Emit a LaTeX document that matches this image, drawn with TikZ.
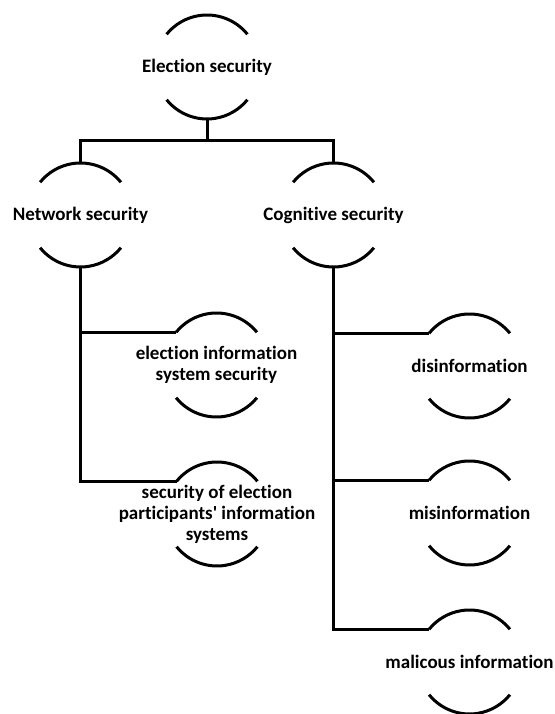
\documentclass[tikz,border=0pt]{standalone}
\usepackage{fontspec}
\newfontfamily\lblfont[Ligatures={NoCommon}]{Carlito}
\begin{document}
\begin{tikzpicture}[x=1pt,y=1pt,
  hub/.style={circle,draw=none,inner sep=0pt,outer sep=0pt,minimum size=104pt},
  lbl/.style={font=\lblfont\fontsize{19}{21}\selectfont\bfseries,align=center,inner sep=0pt},
  arcline/.style={line width=3pt,black},
  conn/.style={line width=3pt,black}]
\useasboundingbox (0,0) rectangle (554,714);
% hubs
\node[hub] (root) at (207,647) {};
\node[hub] (net) at (80.5,499) {};
\node[hub] (cog) at (333.5,499) {};
\node[hub] (eis) at (216.5,349) {};
\node[hub] (sep) at (217,200) {};
\node[hub] (dis) at (469.5,348) {};
\node[hub] (mis) at (469.5,201) {};
\node[hub] (mal) at (469.5,52) {};
% labels
\node[lbl] (root-t) at (root) {Election security};
\node[lbl] (net-t) at (net) {Network security};
\node[lbl] (cog-t) at (cog) {Cognitive security};
\node[lbl] (eis-t) at (eis) {election information\\system security};
\node[lbl] (sep-t) at (sep) {security of election\\participants' information\\systems};
\node[lbl] (dis-t) at (dis) {disinformation};
\node[lbl] (mis-t) at (mis) {misinformation};
\node[lbl] (mal-t) at (mal) {malicous information};
% arcs
\foreach \n in {root,net,cog,eis,sep,dis,mis,mal}{
  \draw[arcline] (\n.39) arc[start angle=39,end angle=141,radius=52pt];
  \draw[arcline] (\n.219) arc[start angle=219,end angle=321,radius=52pt];
}
% connectors
\coordinate (bus) at (207,573);
\draw[conn] (root.south) -- (bus);
\draw[conn] (net.north) |- (bus) -| (cog.north);
\draw[conn] (net.south) |- (eis.141);
\draw[conn] (net.south) |- (sep.141);
\draw[conn] (cog.south) |- (dis.141);
\draw[conn] (cog.south) |- (mis.141);
\draw[conn] (cog.south) |- (mal.141);
\end{tikzpicture}
\end{document}
